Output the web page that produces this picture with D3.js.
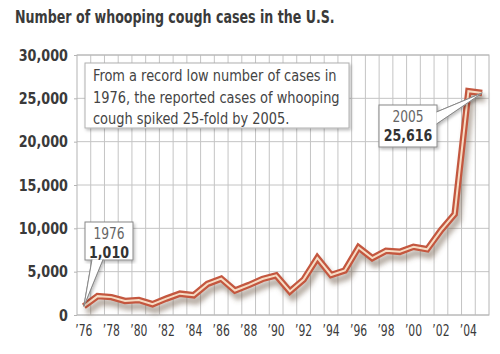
<!DOCTYPE html>
<html>
<head>
<meta charset="utf-8">
<script src="https://cdn.jsdelivr.net/npm/d3@7"></script>
<style>
  body { margin: 0; background: #fff; }
  svg text { font-family: "DejaVu Sans Condensed", "Liberation Sans Narrow", "Roboto", sans-serif; }
</style>
</head>
<body>
<div id="chart"></div>
<script>
// Reported whooping cough (pertussis) cases, 1976-2005
const years = d3.range(1976, 2006);
const cases = [1010, 2177, 2063, 1623, 1730, 1248, 1895, 2463, 2276, 3589,
               4195, 2823, 3450, 4157, 4570, 2719, 4083, 6586, 4617, 5137,
               7796, 6564, 7405, 7288, 7867, 7580, 9771, 11647, 25827, 25616];
const yTicks = [0, 5000, 10000, 15000, 20000, 25000, 30000];
const xTickYears = d3.range(1976, 2006, 2);
const title = 'Number of whooping cough cases in the U.S.';
const noteLines = ['From a record low number of cases in',
                   '1976, the reported cases of whooping',
                   'cough spiked 25-fold by 2005.'];

const width = 500, height = 354;
const margin = { top: 55, right: 11, bottom: 39, left: 77 };

const svg = d3.select('#chart').append('svg')
  .attr('width', width)
  .attr('height', height);

// squeeze text horizontally to mimic the condensed newspaper face
function squeeze(sel, k) {
  sel.each(function () {
    const w = this.getComputedTextLength();
    d3.select(this).attr('textLength', w * k).attr('lengthAdjust', 'spacingAndGlyphs');
  });
}

const defs = svg.append('defs');
defs.append('filter').attr('id', 'blur')
  .attr('x', '-20%').attr('y', '-20%').attr('width', '140%').attr('height', '140%')
  .append('feGaussianBlur').attr('stdDeviation', 2.5);
defs.append('filter').attr('id', 'boxShadow')
  .append('feDropShadow').attr('dx', 1.5).attr('dy', 2).attr('stdDeviation', 1.5)
  .attr('flood-color', '#000').attr('flood-opacity', 0.25);

const x = d3.scaleBand()
  .domain(years)
  .range([margin.left, width - margin.right]);

const y = d3.scaleLinear()
  .domain([0, 30000])
  .range([height - margin.bottom, margin.top]);

// title
svg.append('text')
  .attr('x', 15).attr('y', 23)
  .attr('font-size', 18).attr('font-weight', 'bold')
  .attr('fill', '#3a3a3a')
  .text(title)
  .call(squeeze, 0.78);

// grid
const grid = svg.append('g').attr('stroke', '#c4c4c4').attr('stroke-width', 1);
grid.selectAll('line.v')
  .data(years.slice(1))
  .enter().append('line')
  .attr('x1', d => x(d)).attr('x2', d => x(d))
  .attr('y1', y(30000)).attr('y2', y(0));
grid.selectAll('line.h')
  .data(yTicks)
  .enter().append('line')
  .attr('x1', margin.left).attr('x2', width - margin.right)
  .attr('y1', d => y(d)).attr('y2', d => y(d));
svg.append('rect')
  .attr('x', margin.left).attr('y', y(30000))
  .attr('width', width - margin.right - margin.left)
  .attr('height', y(0) - y(30000))
  .attr('fill', 'none').attr('stroke', '#b4b4b4');

// y axis
const yAxis = svg.append('g')
  .attr('transform', `translate(${margin.left},0)`)
  .call(d3.axisLeft(y).tickValues(yTicks).tickSize(3).tickPadding(6)
    .tickFormat(d3.format(',')));
yAxis.select('.domain').remove();
yAxis.selectAll('line').attr('stroke', '#b4b4b4');
yAxis.selectAll('text')
  .attr('font-size', 16.5).attr('font-weight', 'bold').attr('fill', '#3a3a3a')
  .call(squeeze, 0.86);

// x axis
const xAxis = svg.append('g')
  .attr('transform', `translate(0,${y(0)})`)
  .call(d3.axisBottom(x).tickValues(xTickYears).tickSize(0).tickPadding(10)
    .tickFormat(d => '\u2019' + String(d).slice(2)));
xAxis.select('.domain').remove();
xAxis.selectAll('text')
  .attr('font-size', 15).attr('fill', '#3a3a3a')
  .call(squeeze, 0.8);

// line
const cx = d => x(d) + x.bandwidth() / 2;
const line = d3.line()
  .x((d, i) => cx(years[i]))
  .y(d => y(d));

svg.append('path')
  .datum(cases)
  .attr('d', line)
  .attr('transform', 'translate(3,6)')
  .attr('fill', 'none')
  .attr('stroke', '#6e5a48').attr('stroke-opacity', 0.5)
  .attr('stroke-width', 7)
  .attr('filter', 'url(#blur)');
svg.append('path')
  .datum(cases)
  .attr('d', line)
  .attr('fill', 'none')
  .attr('stroke', '#c4573f').attr('stroke-width', 6.5)
  .attr('stroke-linejoin', 'miter');
svg.append('path')
  .datum(cases)
  .attr('d', line)
  .attr('fill', 'none')
  .attr('stroke', '#f6dcc4').attr('stroke-width', 2)
  .attr('stroke-linejoin', 'miter');

// note box
const note = svg.append('g');
note.append('rect')
  .attr('x', 85).attr('y', 63).attr('width', 264).attr('height', 65)
  .attr('fill', '#fff').attr('stroke', '#b0b0b0')
  .attr('filter', 'url(#boxShadow)');
note.selectAll('text')
  .data(noteLines)
  .enter().append('text')
  .attr('x', 93).attr('y', (d, i) => 81 + i * 21.5)
  .attr('font-size', 16).attr('fill', '#444')
  .text(d => d)
  .call(squeeze, 0.9);

// callouts
function callout(i, bx, by, bw, bh, tip) {
  const px = cx(years[i]), py = y(cases[i]);
  const g = svg.append('g');
  const tipPath = `M${tip[0][0]},${tip[0][1]} L${px},${py} L${tip[1][0]},${tip[1][1]}`;
  g.append('path')
    .attr('d', tipPath)
    .attr('fill', '#fff').attr('stroke', '#888').attr('stroke-width', 1)
    .attr('filter', 'url(#boxShadow)');
  g.append('rect')
    .attr('x', bx).attr('y', by).attr('width', bw).attr('height', bh)
    .attr('fill', '#fff').attr('stroke', '#888')
    .attr('filter', 'url(#boxShadow)');
  // cover the joint between pointer and box
  g.append('path').attr('d', tipPath).attr('fill', '#fff').attr('stroke', 'none');
  g.append('path').attr('d', tipPath).attr('fill', 'none').attr('stroke', '#888');
  g.append('text')
    .attr('x', bx + bw / 2).attr('y', by + 17)
    .attr('text-anchor', 'middle').attr('font-size', 16).attr('fill', '#666')
    .text(years[i])
    .call(squeeze, 0.85);
  g.append('text')
    .attr('x', bx + bw / 2).attr('y', by + 36)
    .attr('text-anchor', 'middle').attr('font-size', 16.5).attr('font-weight', 'bold')
    .attr('fill', '#333')
    .text(d3.format(',')(cases[i]))
    .call(squeeze, 0.85);
}
callout(0, 85, 222, 48, 38, [[92, 259.5], [103, 259.5]]);
callout(years.length - 1, 379, 105, 58, 42, [[436.5, 112], [436.5, 124]]);
</script>
</body>
</html>
